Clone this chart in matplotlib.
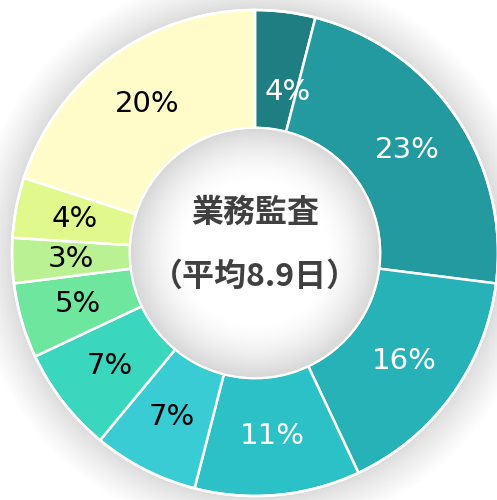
import numpy as np
import matplotlib.pyplot as plt
from matplotlib.patches import Circle

plt.rcParams['font.family'] = ['DejaVu Sans', 'Noto Sans CJK JP']

# 業務監査にかかった日数の内訳
shares = [4, 23, 16, 11, 7, 7, 5, 3, 4, 20]
colors = ['#1f7e81', '#2399a0', '#27b2b8', '#2cc0c7', '#3accd4',
          '#3ad6bd', '#6fe69e', '#baf293', '#e1f98c', '#fffcc9']
label_colors = ['white'] * 4 + ['black'] * 6
title = '業務監査'
subtitle = '（平均8.9日）'

W, H = 497, 500
R = 243.0
cx, cy = 255, 500 - 253

fig = plt.figure(figsize=(W / 100, H / 100), dpi=100)
ax = fig.add_axes([0, 0, 1, 1])
x0, x1 = -cx / R, (W - cx) / R
y0, y1 = -cy / R, (H - cy) / R

# 外側のうっすらした影
xx, yy = np.meshgrid(np.linspace(x0, x1, 400), np.linspace(y0, y1, 400))
rr = np.hypot(xx, yy)
shade = np.clip((rr - 1.0) / 0.17, 0, 1) ** 0.8
ax.imshow(0.85 + 0.15 * shade, extent=(x0, x1, y0, y1), origin='lower',
          cmap='gray', vmin=0, vmax=1, zorder=0)

inner = 0.515
wedges, _ = ax.pie(shares, colors=colors, startangle=90, counterclock=False,
                   radius=1.0, wedgeprops=dict(width=1 - inner, edgecolor='white', linewidth=1.8),
                   normalize=True)
for w in wedges:
    w.set_zorder(2)
ax.add_patch(Circle((0, 0), 1.0, fill=False, edgecolor='white', linewidth=1.8, zorder=3))

# 中央の白い円（内側に向かって明るくなる）
g = np.linspace(-inner, inner, 300)
gx, gy = np.meshgrid(g, g)
gr = np.hypot(gx, gy) / inner
glow = 1.0 - 0.16 * np.clip((gr - 0.55) / 0.45, 0, 1) ** 1.6
im = ax.imshow(glow, extent=(-inner, inner, -inner, inner), origin='lower',
               cmap='gray', vmin=0, vmax=1, zorder=4)
clip = Circle((0, 0), inner, transform=ax.transData)
im.set_clip_path(clip)
ax.add_patch(Circle((0, 0), inner, fill=False, edgecolor='white', linewidth=1.5, zorder=5))

# ラベル（細い最初の区間だけ少し内側・右寄りに置く）
mid_r = (1 + inner) / 2
nudge = {0: (-0.083, -4.4)}
start = 90.0
total = float(sum(shares))
for i, (v, c) in enumerate(zip(shares, label_colors)):
    dr, da = nudge.get(i, (0, 0))
    ang = np.deg2rad(start - v / total * 360 / 2 + da)
    r = mid_r + dr
    ax.text(r * np.cos(ang), r * np.sin(ang), f'{v}%', ha='center', va='center',
            fontsize=21, color=c, zorder=6)
    start -= v / total * 360

ax.text(0, 0.165, title, ha='center', va='center', fontsize=23, fontweight='bold',
        color='#404040', family=['Noto Sans CJK JP'], zorder=6)
ax.text(0, -0.10, subtitle, ha='center', va='center', fontsize=23, fontweight='bold',
        color='#404040', family=['Noto Sans CJK JP'], zorder=6)

ax.set_xlim(x0, x1)
ax.set_ylim(y0, y1)
ax.set_aspect('auto')
ax.axis('off')

fig.savefig('out.png', dpi=100)
